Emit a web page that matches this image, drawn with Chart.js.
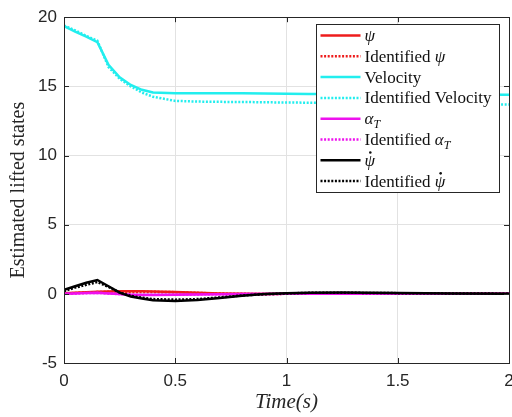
<!DOCTYPE html>
<html>
<head>
<meta charset="utf-8">
<script src="https://cdn.jsdelivr.net/npm/chart.js@4.4.1/dist/chart.umd.min.js"></script>
<style>
  html, body { margin: 0; padding: 0; background: #ffffff; }
  #wrap { width: 512px; height: 417px; }
</style>
</head>
<body>
<div id="wrap"><canvas id="c" width="512" height="417"></canvas></div>
<script>
// Sample times (s)
const time = [0, 0.05, 0.1, 0.15, 0.2, 0.25, 0.3, 0.35, 0.4, 0.5, 0.6, 0.7, 0.8, 0.9, 1.0, 1.1, 1.25, 1.5, 1.75, 2.0];

// Lifted states and their identified counterparts
const psi       = [0.05, 0.08, 0.12, 0.15, 0.17, 0.18, 0.18, 0.18, 0.17, 0.14, 0.08, 0.03, 0.0, -0.01, 0.0, 0.0, 0.01, 0.0, 0.0, 0.0];
const psiId     = [0.03, 0.06, 0.1, 0.13, 0.15, 0.16, 0.16, 0.16, 0.15, 0.12, 0.07, 0.02, 0.0, -0.01, 0.0, 0.0, 0.01, 0.0, 0.0, 0.0];
const velocity  = [19.35, 18.95, 18.6, 18.2, 16.55, 15.65, 15.1, 14.75, 14.55, 14.5, 14.5, 14.5, 14.5, 14.48, 14.46, 14.45, 14.45, 14.43, 14.42, 14.4];
const velocityId= [19.4, 19.05, 18.65, 18.3, 16.4, 15.55, 15.0, 14.55, 14.25, 13.95, 13.9, 13.88, 13.87, 13.85, 13.83, 13.82, 13.8, 13.78, 13.73, 13.68];
const alphaT    = [0.0, 0.03, 0.06, 0.08, 0.03, -0.02, -0.06, -0.08, -0.08, -0.07, -0.05, -0.03, -0.02, -0.01, 0.0, 0.0, 0.0, 0.0, 0.0, 0.0];
const alphaTId  = [0.0, 0.02, 0.05, 0.07, 0.03, -0.02, -0.05, -0.07, -0.07, -0.06, -0.04, -0.03, -0.02, -0.01, 0.0, 0.0, 0.0, 0.0, 0.0, 0.0];
const psiDot    = [0.3, 0.55, 0.8, 1.0, 0.55, 0.09, -0.2, -0.33, -0.47, -0.52, -0.45, -0.3, -0.13, -0.02, 0.05, 0.08, 0.1, 0.06, 0.03, 0.01];
const psiDotId  = [0.2, 0.45, 0.65, 0.85, 0.5, 0.1, -0.15, -0.28, -0.38, -0.42, -0.38, -0.26, -0.12, -0.03, 0.03, 0.07, 0.08, 0.05, 0.03, 0.01];

const seriesLabels = ['ψ', 'Identified ψ', 'Velocity', 'Identified Velocity', 'α_T', 'Identified α_T', 'ψ\u0307', 'Identified ψ\u0307'];
const seriesValues = [psi, psiId, velocity, velocityId, alphaT, alphaTId, psiDot, psiDotId];
const seriesColors = ['#ee1c1c', '#ee1c1c', '#22eeee', '#22eeee', '#ee11ee', '#ee11ee', '#000000', '#000000'];
const xTicks = ['0', '0.5', '1', '1.5', '2'];

const FRAME = '#262626';
const SERIF = '"Liberation Serif", "DejaVu Serif", serif';
const SANS = '"Liberation Sans", Arial, sans-serif';

const datasets = seriesValues.map((vals, i) => ({
  label: seriesLabels[i],
  data: vals.map((v, k) => ({ x: time[k], y: v })),
  borderColor: seriesColors[i],
  backgroundColor: seriesColors[i],
  borderWidth: 2.5,
  borderDash: i % 2 === 1 ? [2, 1.6] : [],
  pointRadius: 0,
  tension: 0,
  fill: false,
  order: seriesValues.length - 1 - i
}));

// Writes a label, setting greek symbols in italic, "_T" as a subscript and
// a combining dot as an accent above the preceding symbol.
function drawMathLabel(ctx, label, x, y, size) {
  let cx = x;
  const upright = `${size}px ${SERIF}`;
  const italic = `italic ${size}px ${SERIF}`;
  let rest = label;
  if (rest.startsWith('Identified ')) {
    ctx.font = upright;
    ctx.fillText('Identified ', cx, y);
    cx += ctx.measureText('Identified ').width;
    rest = rest.slice('Identified '.length);
  }
  if (rest === 'Velocity') {
    ctx.font = upright;
    ctx.fillText(rest, cx, y);
    return;
  }
  const hasDot = rest.includes('\u0307');
  const hasSub = rest.endsWith('_T');
  const sym = rest.replace('\u0307', '').replace('_T', '');
  ctx.font = italic;
  ctx.fillText(sym, cx, y);
  const w = ctx.measureText(sym).width;
  if (hasDot) {
    ctx.beginPath();
    ctx.arc(cx + w * 0.55, y - size * 0.78, 1.3, 0, Math.PI * 2);
    ctx.fill();
  }
  cx += w;
  if (hasSub) {
    ctx.font = `italic ${Math.round(size * 0.7)}px ${SERIF}`;
    ctx.fillText('T', cx, y + size * 0.25);
  }
}

const framePlugin = {
  id: 'frameAndLegend',
  afterDatasetsDraw(chart) {
    const { ctx, chartArea: a, scales } = chart;
    ctx.save();
    // box around the axes, with inward tick marks on all four sides
    ctx.strokeStyle = FRAME;
    ctx.lineWidth = 1;
    ctx.setLineDash([]);
    ctx.strokeRect(Math.round(a.left) + 0.5, Math.round(a.top) + 0.5,
                   Math.round(a.right - a.left), Math.round(a.bottom - a.top));
    ctx.beginPath();
    scales.x.ticks.forEach(t => {
      const px = Math.round(scales.x.getPixelForValue(t.value)) + 0.5;
      ctx.moveTo(px, a.bottom); ctx.lineTo(px, a.bottom - 5);
      ctx.moveTo(px, a.top); ctx.lineTo(px, a.top + 5);
    });
    scales.y.ticks.forEach(t => {
      const py = Math.round(scales.y.getPixelForValue(t.value)) + 0.5;
      ctx.moveTo(a.left, py); ctx.lineTo(a.left + 5, py);
      ctx.moveTo(a.right, py); ctx.lineTo(a.right - 5, py);
    });
    ctx.stroke();

    // legend
    const bx = 316.5, by = 24.5, bw = 183, bh = 168;
    ctx.fillStyle = '#ffffff';
    ctx.fillRect(bx, by, bw, bh);
    ctx.strokeStyle = FRAME;
    ctx.strokeRect(bx, by, bw, bh);
    const rowH = 20.8;
    chart.data.datasets.forEach((ds, i) => {
      const cy = by + 11 + i * rowH;
      ctx.strokeStyle = ds.borderColor;
      ctx.lineWidth = 2.5;
      ctx.setLineDash(ds.borderDash);
      ctx.beginPath();
      ctx.moveTo(bx + 4, cy);
      ctx.lineTo(bx + 44, cy);
      ctx.stroke();
      ctx.setLineDash([]);
      ctx.fillStyle = '#111111';
      ctx.textBaseline = 'alphabetic';
      ctx.textAlign = 'left';
      drawMathLabel(ctx, ds.label, bx + 48, cy + 5.5, 17);
    });
    ctx.restore();
  }
};

new Chart(document.getElementById('c'), {
  type: 'line',
  data: { datasets },
  options: {
    responsive: false,
    animation: false,
    layout: { padding: { left: 0, top: 14, right: 3, bottom: 0 } },
    plugins: {
      legend: { display: false },
      tooltip: { enabled: false }
    },
    scales: {
      x: {
        type: 'linear',
        min: 0, max: 2,
        ticks: {
          stepSize: 0.5,
          color: '#262626',
          font: { family: SANS, size: 17 },
          padding: 8,
          maxRotation: 0,
          callback: (v) => xTicks[Math.round(v * 2)]
        },
        grid: { color: '#e2e2e2', lineWidth: 1, drawTicks: false },
        border: { display: false },
        title: {
          display: true,
          text: 'Time(s)',
          color: '#262626',
          font: { family: SERIF, size: 21, style: 'italic' },
          padding: { top: 0, bottom: 2 }
        },
        afterFit(scale) { scale.height = 54; scale.paddingLeft = 0; scale.paddingRight = 0; }
      },
      y: {
        min: -5, max: 20,
        ticks: {
          stepSize: 5,
          color: '#262626',
          font: { family: SANS, size: 17 },
          padding: 7
        },
        grid: { color: '#e2e2e2', lineWidth: 1, drawTicks: false },
        border: { display: false },
        title: {
          display: true,
          text: 'Estimated lifted states',
          color: '#262626',
          font: { family: SERIF, size: 20 },
          padding: { top: 7, bottom: 0 }
        },
        afterFit(scale) { scale.width = 64; }
      }
    }
  },
  plugins: [framePlugin]
});
</script>
</body>
</html>
